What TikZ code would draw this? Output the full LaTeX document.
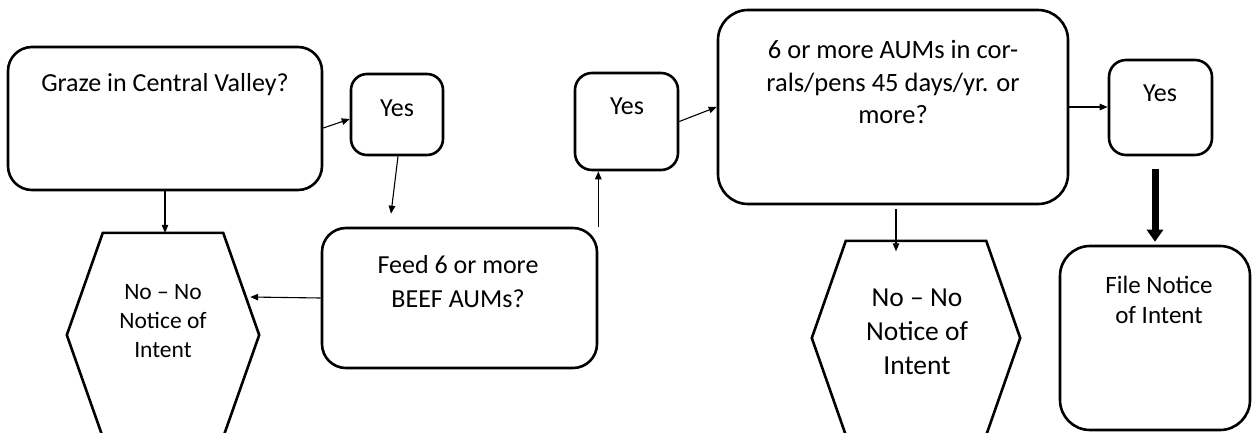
\documentclass[tikz,border=0pt]{standalone}
\usepackage{fontspec}
\setmainfont{Carlito}
\usetikzlibrary{arrows.meta, positioning, calc}

\tikzset{
  box/.style={draw, line width=2.6pt, rounded corners=#1, inner sep=0pt},
  box/.default=22pt,
  hexa/.style={inner sep=0pt},
  txt/.style={align=center, inner sep=0pt, font=\fontsize{26}{32}\selectfont},
  link/.style={-{Triangle[length=8pt, width=6.5pt]}, line width=1.1pt},
  boldlink/.style={-{Triangle[length=12pt, width=16pt]}, line width=7pt},
}

\begin{document}
\begin{tikzpicture}[x=1pt, y=-1pt]
  \clip (0,0) rectangle (1252,432);

  % Decision boxes
  \node[box=24pt, minimum width=314pt, minimum height=143pt] (graze) at (165,118.5) {};
  \node[box=16pt, minimum width=92pt, minimum height=81pt] (yesA) at (397,114.5) {};
  \node[box=24pt, minimum width=275pt, minimum height=140pt] (feed) at (459.5,298) {};
  \node[box=17pt, minimum width=103pt, minimum height=97pt] (yesB) at (626.5,121.5) {};
  \node[box=30pt, minimum width=350pt, minimum height=194pt] (big) at (893,107) {};
  \node[box=17pt, minimum width=103pt, minimum height=95pt] (yesC) at (1160.5,107.5) {};
  \node[box=30pt, minimum width=190pt, minimum height=184pt] (file) at (1155,338) {};

  % Hexagons
  \node[hexa, minimum width=192pt, minimum height=204pt] (hexA) at (163,335) {};
  \draw[line width=2.6pt] (hexA.west) -- ($(hexA.north west)+(36,0)$)
    -- ($(hexA.north east)+(-36,0)$) -- (hexA.east)
    -- ($(hexA.south east)+(-36,0)$) -- ($(hexA.south west)+(36,0)$) -- cycle;
  \node[hexa, minimum width=208pt, minimum height=194pt] (hexB) at (916,338) {};
  \draw[line width=2.6pt] (hexB.west) -- ($(hexB.north west)+(34,0)$)
    -- ($(hexB.north east)+(-34,0)$) -- (hexB.east)
    -- ($(hexB.south east)+(-34,0)$) -- ($(hexB.south west)+(34,0)$) -- cycle;

  % Texts
  \node[txt] (grazeT) at (165,85) {Graze in Central Valley?};
  \node[txt] (yesAT) at (397,108) {Yes};
  \node[txt, font=\fontsize{26}{34}\selectfont] (feedT) at (458,282) {Feed 6 or more\\BEEF AUMs?};
  \node[txt, font=\fontsize{23.5}{29}\selectfont] (hexAT) at (163,321) {No – No\\Notice of\\Intent};
  \node[txt] (yesBT) at (627,106) {Yes};
  \node[txt, font=\fontsize{26.5}{32.5}\selectfont] (bigT) at (893,82)
    {6 or more AUMs in cor-\\rals/pens 45 days/yr. or\\more?};
  \node[txt, font=\fontsize{27.5}{34}\selectfont] (hexBT) at (917,332) {No – No\\Notice of\\Intent};
  \node[txt] (yesCT) at (1160,93) {Yes};
  \node[txt, font=\fontsize{25}{30}\selectfont] (fileT) at (1159,300) {File Notice\\of Intent};

  % Connectors
  \draw[link] ($(graze.east)+(0,9.5)$) -- ($(yesA.west)+(0,4.5)$);
  \draw[link] ($(yesA.south)+(1,0)$) -- ($(feed.north)+(-68.5,-13)$);
  \draw[link] (graze.south) -- (graze.south |- hexA.north);
  \draw[link] (feed.west) -- ($(hexA.east)+(-9,-38)$);
  \draw[link] (feed.north east) -- (feed.north east |- yesB.south);
  \draw[link] (yesB.east) -- (big.west);
  \draw[link] (big.east) -- (big.east -| yesC.west);
  \draw[link] ($(big.south)+(3,4)$) -- ($(big.south)+(3,46)$);
  \draw[boldlink] ($(yesC.south)+(-5.5,13)$) -- ($(file.north)+(0,-3)$);
\end{tikzpicture}
\end{document}
